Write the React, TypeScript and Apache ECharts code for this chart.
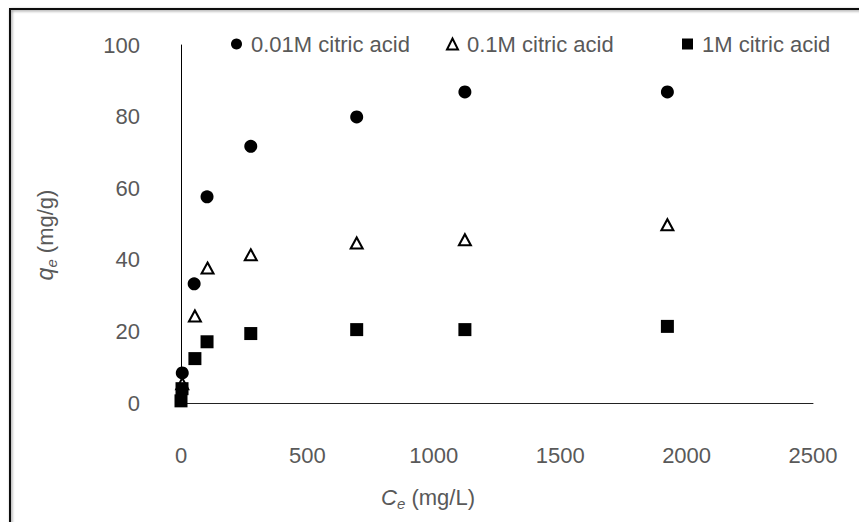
import React, { useEffect, useRef } from "react";
import * as echarts from "echarts";

const seriesNames = ["0.01M citric acid", "0.1M citric acid", "1M citric acid"];
const ceLow = [5, 52, 103, 276, 695, 1123, 1924];
const qLow = [8.4, 33.3, 57.6, 71.7, 79.9, 86.9, 86.9];
const ceMid = [5, 55, 105, 276, 695, 1123, 1924];
const qMid = [5.4, 24.3, 37.7, 41.4, 44.7, 45.6, 49.8];
const ceHigh = [0, 4, 55, 103, 276, 695, 1123, 1924];
const qHigh = [0.6, 4.0, 12.4, 17.1, 19.4, 20.5, 20.5, 21.4];
const xAxisRange = [0, 2500, 500];
const yAxisRange = [0, 100, 20];

const FONT = "'Liberation Sans', Arial, sans-serif";
const TXT = "#595959";

function pairs(xs: number[], ys: number[]) {
  return xs.map((x, i) => [x, ys[i]]);
}

export default function App() {
  const ref = useRef<HTMLDivElement>(null);
  useEffect(() => {
    if (!ref.current) return;
    const chart = echarts.init(ref.current, null, { renderer: "svg" });
    const legendCommon = {
      top: 28,
      itemWidth: 11,
      itemHeight: 11,
      textStyle: { color: TXT, fontSize: 22, fontFamily: FONT, padding: [0, 0, 0, 4] },
    };
    chart.setOption({
      animation: false,
      backgroundColor: "#fff",
      textStyle: { fontFamily: FONT },
      grid: { left: 181, right: 46, top: 45, bottom: 119, containLabel: false },
      legend: [
        { ...legendCommon, left: 226, data: [seriesNames[0]] },
        { ...legendCommon, left: 441, data: [seriesNames[1]] },
        { ...legendCommon, left: 677, data: [seriesNames[2]] },
      ],
      xAxis: {
        type: "value",
        min: xAxisRange[0],
        max: xAxisRange[1],
        interval: xAxisRange[2],
        splitLine: { show: false },
        axisTick: { show: false },
        axisLine: { show: true, lineStyle: { color: "#222", width: 1 } },
        axisLabel: {
          color: TXT,
          fontSize: 22,
          fontFamily: FONT,
          margin: 41,
          formatter: (v: number) => String(v),
        },
      },
      yAxis: {
        type: "value",
        min: yAxisRange[0],
        max: yAxisRange[1],
        interval: yAxisRange[2],
        splitLine: { show: false },
        axisTick: { show: false },
        axisLine: { show: true, onZero: false, lineStyle: { color: "#000", width: 1 } },
        axisLabel: { color: TXT, fontSize: 22, fontFamily: FONT, margin: 41 },
      },
      graphic: [
        {
          type: "rect",
          shape: { x: 10, y: 9, width: 900, height: 600 },
          style: {
            fill: "none",
            stroke: "#111",
            lineWidth: 2,
            shadowBlur: 3,
            shadowColor: "rgba(0,0,0,0.45)",
            shadowOffsetX: 1,
            shadowOffsetY: 1,
          },
          silent: true,
        },
        {
          type: "text",
          x: 45,
          y: 235,
          rotation: Math.PI / 2,
          style: {
            text: "{i|q}{s|e} (mg/g)",
            align: "center",
            verticalAlign: "middle",
            fill: TXT,
            fontSize: 22,
            fontFamily: FONT,
            rich: {
              i: { fontStyle: "italic", fontSize: 23, fill: TXT, fontFamily: FONT },
              s: { fontStyle: "italic", fontSize: 15, fill: TXT, fontFamily: FONT, padding: [12, 0, 0, 0] },
            },
          },
        },
        {
          type: "text",
          x: 428,
          y: 497,
          style: {
            text: "{i|C}{s|e} (mg/L)",
            align: "center",
            verticalAlign: "middle",
            fill: TXT,
            fontSize: 22,
            fontFamily: FONT,
            rich: {
              i: { fontStyle: "italic", fontSize: 22, fill: TXT, fontFamily: FONT },
              s: { fontStyle: "italic", fontSize: 15, fill: TXT, fontFamily: FONT, padding: [12, 0, 0, 0] },
            },
          },
        },
      ],
      series: [
        {
          name: seriesNames[0],
          type: "scatter",
          symbol: "circle",
          symbolSize: 13,
          itemStyle: { color: "#000", opacity: 1 },
          data: pairs(ceLow, qLow),
        },
        {
          name: seriesNames[1],
          type: "scatter",
          symbol: "triangle",
          symbolSize: [12, 11],
          itemStyle: { color: "#fff", borderColor: "#000", borderWidth: 2, opacity: 1 },
          data: pairs(ceMid, qMid),
        },
        {
          name: seriesNames[2],
          type: "scatter",
          symbol: "rect",
          symbolSize: 13,
          itemStyle: { color: "#000", opacity: 1 },
          data: pairs(ceHigh, qHigh),
        },
      ],
    });
    return () => chart.dispose();
  }, []);
  return (
    <div
      ref={ref}
      style={{ position: "absolute", left: 0, top: 0, width: 859, height: 522, background: "#fff" }}
    />
  );
}
